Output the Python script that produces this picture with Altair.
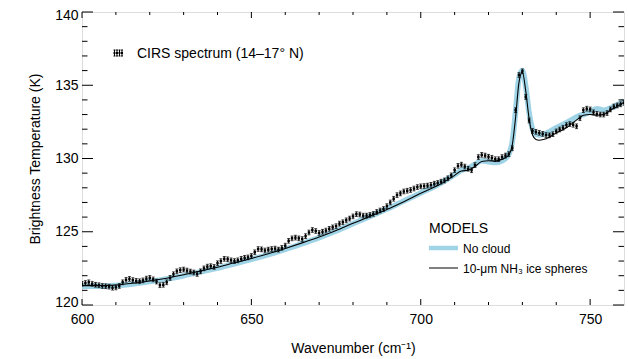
import altair as alt
import pandas as pd

# ---------------- data ----------------
wn_obs = list(range(600, 761))
t_obs = [
    121.45, 121.50, 121.55, 121.45, 121.38, 121.35, 121.30, 121.28, 121.25, 121.18,
    121.20, 121.30, 121.55, 121.72, 121.78, 121.70, 121.65, 121.62, 121.68, 121.80,
    121.85, 121.75, 121.60, 121.35, 121.38, 121.55, 121.85, 122.10, 122.30, 122.38,
    122.42, 122.35, 122.28, 122.22, 122.12, 122.30, 122.50, 122.62, 122.65, 122.60,
    122.85, 123.00, 123.15, 123.12, 123.05, 123.00, 123.05, 123.15, 123.22, 123.25,
    123.35, 123.60, 123.82, 123.80, 123.72, 123.78, 123.82, 123.85, 123.78, 123.90,
    124.05, 124.38, 124.55, 124.60, 124.55, 124.50, 124.70, 124.95, 125.12, 125.05,
    124.92, 125.00, 125.08, 125.20, 125.30, 125.38, 125.55, 125.65, 125.78, 125.90,
    126.05, 126.20, 126.18, 126.10, 126.10, 126.15, 126.22, 126.35, 126.45, 126.55,
    126.75, 127.00, 127.25, 127.50, 127.62, 127.75, 127.80, 127.85, 127.95, 128.05,
    128.10, 128.12, 128.15, 128.20, 128.28, 128.33, 128.42, 128.50, 128.65, 128.85,
    129.20, 129.50, 129.58, 129.45, 129.30, 129.20, 129.55, 130.10, 130.25, 130.20,
    130.12, 130.05, 129.95, 129.95, 130.10, 130.20, 130.30, 130.70, 133.30, 135.70,
    135.95, 134.20, 132.60, 131.88, 131.82, 131.75, 131.68, 131.60, 131.58, 131.66,
    131.85, 131.98, 132.10, 132.28, 132.35, 132.30, 132.20, 132.75, 133.30, 133.40,
    133.35, 133.15, 133.05, 133.00, 133.00, 133.10, 133.35, 133.55, 133.62, 133.70,
    133.80,
]
err_obs = 0.16

wn_model = [600, 605, 610, 615, 620, 625, 630, 635, 640, 645, 650, 655, 660, 665,
            670, 675, 680, 685, 690, 695, 700, 705, 710, 712, 714, 716, 718, 720,
            722, 724, 725, 726, 727, 728, 729, 730, 731, 732, 733, 734, 735, 737,
            740, 743, 745, 747, 748, 750, 752, 754, 756, 758, 760]
t_cloud = [121.32, 121.32, 121.36, 121.48, 121.64, 121.83, 122.06, 122.32, 122.58,
           122.88, 123.18, 123.50, 123.86, 124.24, 124.64, 125.08, 125.58, 126.05,
           126.52, 127.05, 127.62, 128.15, 128.85, 129.15, 129.20, 129.45, 129.80,
           129.85, 129.82, 129.95, 130.05, 130.25, 130.90, 132.80, 135.20, 135.90,
           134.60, 132.70, 131.60, 131.30, 131.25, 131.35, 131.75, 132.10, 132.45,
           132.80, 132.95, 133.00, 132.95, 133.00, 133.30, 133.55, 133.85]
t_nocloud = [121.28, 121.28, 121.33, 121.44, 121.60, 121.78, 122.00, 122.26, 122.52,
             122.81, 123.11, 123.44, 123.80, 124.19, 124.60, 125.05, 125.55, 126.05,
             126.55, 127.10, 127.65, 128.20, 128.90, 129.20, 129.35, 129.60, 129.85,
             129.78, 129.72, 129.85, 130.00, 130.30, 131.10, 133.20, 135.50, 136.00,
             134.90, 133.10, 132.00, 131.65, 131.60, 131.72, 132.10, 132.45, 132.70,
             132.95, 133.00, 133.20, 133.40, 133.30, 133.45, 133.65, 133.95]

x_major = [600, 650, 700, 750]
x_minor = [610, 620, 630, 640, 660, 670, 680, 690, 710, 720, 730, 740]
y_major = [120, 125, 130, 135, 140]
y_minor = [121, 122, 123, 124, 126, 127, 128, 129, 131, 132, 133, 134, 136, 137, 138, 139]

# ---------------- layout ----------------
W, H = 542, 293
FONT = "Liberation Sans"
xs = alt.Scale(domain=[600, 760], nice=False, zero=False)
ys = alt.Scale(domain=[120, 140], nice=False, zero=False)

obs = pd.DataFrame({"wn": wn_obs, "t": t_obs})
obs["lo"] = obs["t"] - err_obs
obs["hi"] = obs["t"] + err_obs
mod = pd.DataFrame({"wn": wn_model, "cloud": t_cloud, "nocloud": t_nocloud})

x_axis = alt.Axis(values=x_major, ticks=False, tickSize=0, domain=False, grid=False,
                  labelFlush=False,
                  labelFontSize=14, labelPadding=7, title="Wavenumber (cm⁻¹)",
                  titleFontSize=14, titleFontWeight="normal", titlePadding=15,
                  labelFont=FONT, titleFont=FONT, labelColor="#000", titleColor="#000")
y_axis = alt.Axis(values=y_major, ticks=False, tickSize=0, domain=False, grid=False,
                  labelFlush=True, labelFlushOffset=4,
                  labelFontSize=14, labelPadding=4, title="Brightness Temperature (K)",
                  titleFontSize=14, titleFontWeight="normal", titlePadding=12,
                  labelFont=FONT, titleFont=FONT, labelColor="#000", titleColor="#000")


def X(field):
    return alt.X(field, scale=xs, axis=x_axis)


def Y(field):
    return alt.Y(field, scale=ys, axis=y_axis)


nocloud = alt.Chart(mod).mark_line(color="#9fd3e6", strokeWidth=5.5, clip=True,
                                   interpolate="monotone").encode(
    x=X("wn:Q"), y=Y("nocloud:Q"))
cloud = alt.Chart(mod).mark_line(color="#000", strokeWidth=1.1, clip=True,
                                 interpolate="monotone").encode(
    x=X("wn:Q"), y=Y("cloud:Q"))
bars = alt.Chart(obs).mark_rule(color="#000", strokeWidth=1, clip=True).encode(
    x=X("wn:Q"), y=Y("lo:Q"), y2="hi:Q")
cap_lo = alt.Chart(obs).mark_tick(color="#000", orient="horizontal", size=3,
                                  thickness=1, clip=True).encode(
    x=X("wn:Q"), y=Y("lo:Q"))
cap_hi = alt.Chart(obs).mark_tick(color="#000", orient="horizontal", size=3,
                                  thickness=1, clip=True).encode(
    x=X("wn:Q"), y=Y("hi:Q"))
dots = alt.Chart(obs).mark_square(color="#000", size=6, opacity=1, clip=True).encode(
    x=X("wn:Q"), y=Y("t:Q"))


# ---------------- inward ticks (IDL style) ----------------
def xticks(vals, length):
    df = pd.DataFrame({"v": vals})
    bot = alt.Chart(df).mark_rule(color="#000", strokeWidth=1).encode(
        x=X("v:Q"), y=alt.value(H), y2=alt.value(H - length))
    top = alt.Chart(df).mark_rule(color="#000", strokeWidth=1).encode(
        x=X("v:Q"), y=alt.value(0), y2=alt.value(length))
    return [bot, top]


def yticks(vals, length):
    df = pd.DataFrame({"v": vals})
    left = alt.Chart(df).mark_rule(color="#000", strokeWidth=1).encode(
        y=Y("v:Q"), x=alt.value(0), x2=alt.value(length))
    right = alt.Chart(df).mark_rule(color="#000", strokeWidth=1).encode(
        y=Y("v:Q"), x=alt.value(W), x2=alt.value(W - length))
    return [left, right]


tick_layers = xticks(x_major, 6) + xticks(x_minor, 3) + yticks(y_major, 11) + yticks(y_minor, 5.5)

# ---------------- legends ----------------
one = pd.DataFrame({"a": [0]})


def label(txt, x, y, size):
    return alt.Chart(one).mark_text(align="left", baseline="middle", font=FONT,
                                    fontSize=size, color="#000").encode(
        x=alt.value(x), y=alt.value(y), text=alt.value(txt))


sym = pd.DataFrame({"px": [32.5, 35.0, 37.5, 40.0]})
sym["l"] = sym["px"] - 1
sym["r"] = sym["px"] + 1
sym_bar = alt.Chart(sym).mark_rule(color="#000", strokeWidth=1).encode(
    x=alt.X("px:Q", scale=None), y=alt.value(38), y2=alt.value(44))
sym_top = alt.Chart(sym).mark_rule(color="#000", strokeWidth=1).encode(
    x=alt.X("l:Q", scale=None), x2="r:Q", y=alt.value(38))
sym_bot = alt.Chart(sym).mark_rule(color="#000", strokeWidth=1).encode(
    x=alt.X("l:Q", scale=None), x2="r:Q", y=alt.value(44))
sym_dot = alt.Chart(sym).mark_square(color="#000", size=4, opacity=1).encode(
    x=alt.X("px:Q", scale=None), y=alt.value(41))

leg_blue = alt.Chart(one).mark_rule(color="#9fd3e6", strokeWidth=4.5).encode(
    x=alt.value(347), x2=alt.value(376), y=alt.value(236))
leg_black = alt.Chart(one).mark_rule(color="#000", strokeWidth=1).encode(
    x=alt.value(347), x2=alt.value(376), y=alt.value(256))

legend_layers = [
    sym_bar, sym_top, sym_bot, sym_dot,
    label("CIRS spectrum (14–17° N)", 55, 41.5, 14),
    label("MODELS", 347, 216.5, 14),
    leg_blue, label("No cloud", 381, 236.5, 12),
    leg_black, label("10-μm NH₃ ice spheres", 381, 256.5, 12),
]

chart = alt.layer(
    nocloud, cloud, bars, cap_lo, cap_hi, dots, *tick_layers, *legend_layers
).properties(
    width=W, height=H,
    padding={"left": 82, "top": 12, "right": 4, "bottom": 54},
    autosize=alt.AutoSizeParams(type="none"),
).configure_view(
    stroke="#000", strokeWidth=1
).configure(background="white")

chart.save("out.html", embed_options={"renderer": "svg", "actions": False})
